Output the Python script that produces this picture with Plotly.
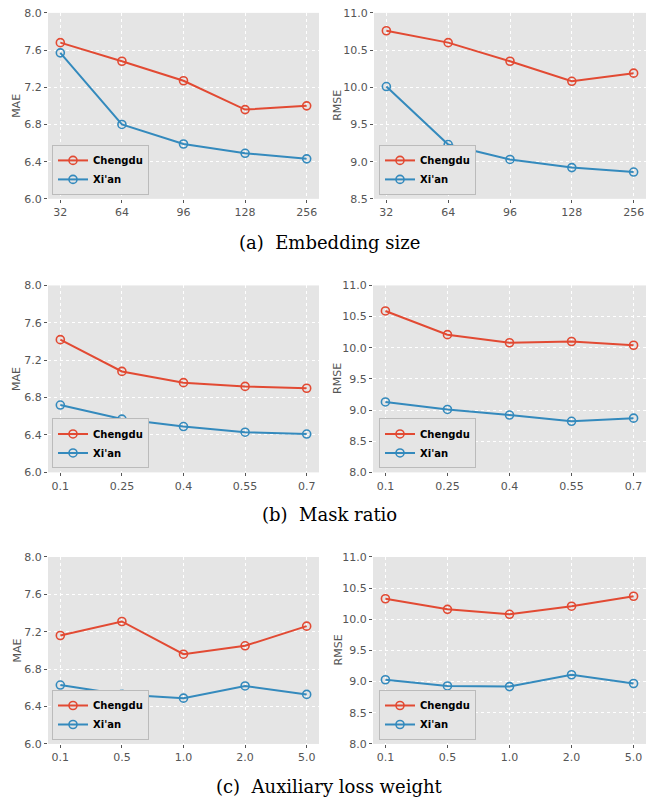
import plotly.graph_objects as go

W, H = 657, 808

# ---- data ----
emb_labels = ["32", "64", "96", "128", "256"]
emb_mae_chengdu = [7.68, 7.48, 7.27, 6.96, 7.00]
emb_mae_xian = [7.57, 6.80, 6.59, 6.49, 6.43]
emb_rmse_chengdu = [10.76, 10.60, 10.35, 10.08, 10.19]
emb_rmse_xian = [10.01, 9.23, 9.03, 8.92, 8.86]

mask_labels = ["0.1", "0.25", "0.4", "0.55", "0.7"]
mask_mae_chengdu = [7.42, 7.08, 6.96, 6.92, 6.90]
mask_mae_xian = [6.72, 6.57, 6.49, 6.43, 6.41]
mask_rmse_chengdu = [10.59, 10.21, 10.08, 10.10, 10.04]
mask_rmse_xian = [9.13, 9.01, 8.92, 8.82, 8.87]

aux_labels = ["0.1", "0.5", "1.0", "2.0", "5.0"]
aux_mae_chengdu = [7.16, 7.31, 6.96, 7.05, 7.26]
aux_mae_xian = [6.63, 6.53, 6.49, 6.62, 6.53]
aux_rmse_chengdu = [10.33, 10.16, 10.08, 10.21, 10.37]
aux_rmse_xian = [9.03, 8.93, 8.92, 9.11, 8.97]

mae_ticks = [6.0, 6.4, 6.8, 7.2, 7.6, 8.0]
rmse_ticks_top = [8.5, 9.0, 9.5, 10.0, 10.5, 11.0]
rmse_ticks = [8.0, 8.5, 9.0, 9.5, 10.0, 10.5, 11.0]

captions = ["(a)  Embedding size", "(b)  Mask ratio", "(c)  Auxiliary loss weight"]
series_names = ["Chengdu", "Xi'an"]
RED, BLUE = "#E24A33", "#348ABD"


def clamp(v):
    return min(1.0, max(0.0, v))


def px(x):
    return clamp(x / W)


def py(y):
    return clamp(1 - y / H)


panels = [
    (48, 319, 7, 196, emb_labels, emb_mae_chengdu, emb_mae_xian, "MAE", [6.0, 8.0], mae_ticks, 52, 192, 17),
    (374, 646, 7, 196, emb_labels, emb_rmse_chengdu, emb_rmse_xian, "RMSE", [8.5, 11.0], rmse_ticks_top, 379, 192, 338),
    (48, 319, 284, 474, mask_labels, mask_mae_chengdu, mask_mae_xian, "MAE", [6.0, 8.0], mae_ticks, 52, 470, 17),
    (373, 646, 284, 474, mask_labels, mask_rmse_chengdu, mask_rmse_xian, "RMSE", [8.0, 11.0], rmse_ticks, 379, 470, 338),
    (48, 319, 560, 750, aux_labels, aux_mae_chengdu, aux_mae_xian, "MAE", [6.0, 8.0], mae_ticks, 52, 746, 17),
    (373, 646, 560, 750, aux_labels, aux_rmse_chengdu, aux_rmse_xian, "RMSE", [8.0, 11.0], rmse_ticks, 379, 746, 338),
]

fig = go.Figure()
layout = dict(
    width=W, height=H, margin=dict(l=0, r=0, t=0, b=0),
    paper_bgcolor="white", plot_bgcolor="#E5E5E5",
    font=dict(family="DejaVu Sans", size=11, color="#555555"),
    annotations=[], shapes=[],
)

tickfont = dict(family="DejaVu Sans", size=11, color="#555555")

for i, (x0, x1, y0, y1, labels, cd, xa, ylab, yr, ticks, lx, lb, ylx) in enumerate(panels):
    n = i + 1
    xname = "xaxis" if n == 1 else f"xaxis{n}"
    yname = "yaxis" if n == 1 else f"yaxis{n}"
    xref = "x" if n == 1 else f"x{n}"
    yref = "y" if n == 1 else f"y{n}"
    lname = "legend" if n == 1 else f"legend{n}"
    for name, vals, col in [(series_names[0], cd, RED), (series_names[1], xa, BLUE)]:
        fig.add_trace(go.Scatter(
            x=labels, y=vals, name=name, mode="lines+markers",
            line=dict(color=col, width=2),
            marker=dict(symbol="circle-open", size=8, color=col, line=dict(width=1.6, color=col)),
            xaxis=xref, yaxis=yref, legend=lname, cliponaxis=False,
        ))
    layout[xname] = dict(
        domain=[px(x0), px(x1)], anchor=yref, type="category",
        range=[-0.2, len(labels) - 1 + 0.2],
        showgrid=True, gridcolor="white", griddash="dot", gridwidth=1,
        ticks="outside", ticklen=3, tickcolor="#555555", tickfont=tickfont,
        showline=False, zeroline=False, fixedrange=True,
    )
    layout[yname] = dict(
        domain=[py(y1), py(y0)], anchor=xref,
        range=yr, tickvals=ticks, tickformat=".1f",
        showgrid=True, gridcolor="white", griddash="dot", gridwidth=1,
        ticks="outside", ticklen=3, tickcolor="#555555", tickfont=tickfont,
        showline=False, zeroline=False, fixedrange=True,
    )
    layout[lname] = dict(
        x=px(lx), y=py(lb), xanchor="left", yanchor="bottom",
        xref="paper", yref="paper",
        bgcolor="#E5E5E5", bordercolor="#BBBBBB", borderwidth=1,
        font=dict(family="DejaVu Sans", size=10, color="black", weight="bold"),
        itemwidth=30, tracegroupgap=0,
    )
    layout["annotations"].append(dict(
        text=ylab, x=px(ylx), y=py((y0 + y1) / 2), xref="paper", yref="paper",
        textangle=-90, showarrow=False, font=dict(family="DejaVu Sans", size=11, color="#555555"),
        xanchor="center", yanchor="middle",
    ))

for cap, cy in zip(captions, [240, 517, 793]):
    layout["annotations"].append(dict(
        text=cap, x=px(329), y=py(cy), xref="paper", yref="paper",
        showarrow=False, font=dict(family="DejaVu Serif", size=18, color="black"),
        xanchor="center", yanchor="middle",
    ))

fig.update_layout(**layout)
fig.write_html(
    "out.html",
    config={"displayModeBar": False},
    post_script="document.body.style.margin='0';document.body.style.overflow='hidden';",
)
